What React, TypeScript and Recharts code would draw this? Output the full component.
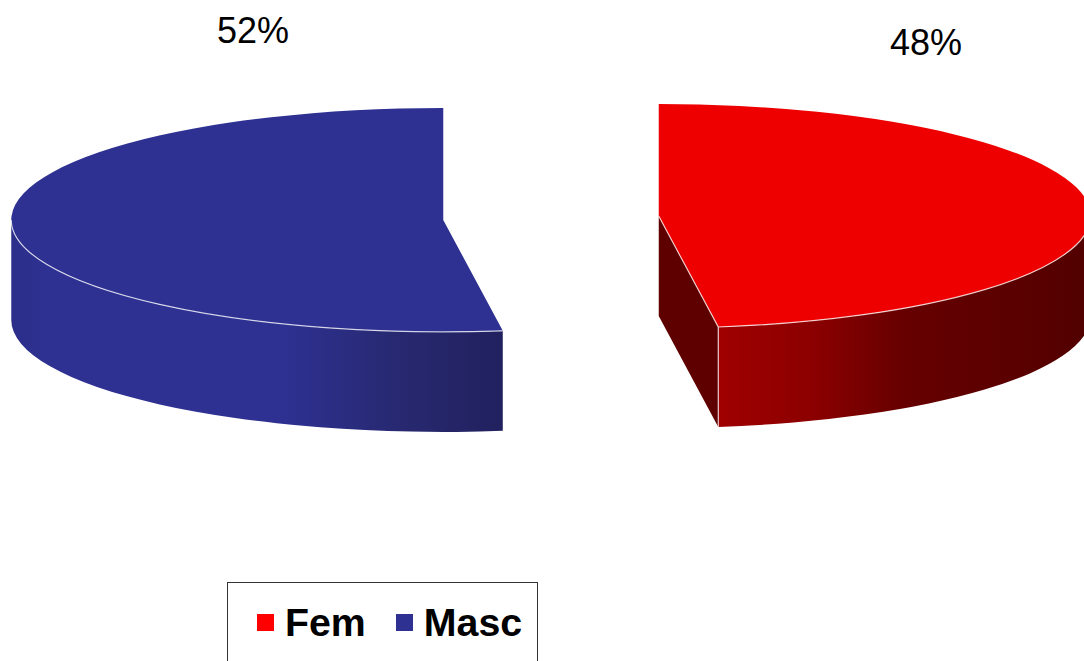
import React from "react";
import { PieChart, Pie, Legend } from "recharts";

const categories = ["Fem", "Masc"];
const shares = [47.8, 52.2];
const topColors = ["#ee0000", "#2e3192"];
const swatchColors = ["#ff0000", "#2e3192"];
const wallStops: [string, string][][] = [
  [["0%", "#a00000"], ["25%", "#8c0000"], ["50%", "#660000"], ["70%", "#5e0000"], ["100%", "#520000"]],
  [["0%", "#2c2e8a"], ["8%", "#2e3192"], ["55%", "#2e3192"], ["80%", "#27286f"], ["100%", "#21215f"]],
];
const faceColor = "#5f0000";

const W = 1084;
const H = 661;
const RX = 432;
const RATIO = 112 / 432;
const DEPTH = 100;
const EXPLODE = 108;
const LABEL_OFFSET: Record<string, [number, number]> = {
  Fem: [375, -176],
  Masc: [-298, -188],
};

const chartData = categories.map((name, i) => ({ name, value: shares[i], fill: topColors[i], idx: i }));

const rad = (d: number) => (d * Math.PI) / 180;

function SliceShape(props: any) {
  const { cx, cy, startAngle, endAngle, midAngle, outerRadius, name } = props;
  const i = categories.indexOf(name);
  const rx = outerRadius;
  const ry = outerRadius * RATIO;
  const mid = 90 - midAngle;
  const c = {
    x: cx + EXPLODE * Math.sin(rad(mid)),
    y: cy - EXPLODE * RATIO * Math.cos(rad(mid)),
  };
  const pt = (theta: number) => ({
    x: c.x + rx * Math.sin(rad(theta)),
    y: c.y - ry * Math.cos(rad(theta)),
  });
  const t0 = 90 - startAngle;
  const t1 = 90 - endAngle;
  const a = pt(t0);
  const b = pt(t1);
  const large = t1 - t0 > 180 ? 1 : 0;
  const top = `M${c.x},${c.y} L${a.x},${a.y} A${rx},${ry} 0 ${large} 1 ${b.x},${b.y} Z`;

  const v0 = Math.max(t0, 90);
  const v1 = Math.min(t1, 270);
  const p = pt(v0);
  const q = pt(v1);
  const rim = `M${p.x},${p.y} A${rx},${ry} 0 0 1 ${q.x},${q.y}`;
  const wall = `${rim} L${q.x},${q.y + DEPTH} A${rx},${ry} 0 0 0 ${p.x},${p.y + DEPTH} Z`;
  const gid = `wall-${i}`;
  const showFace = t1 > 90 && t1 < 180;

  return (
    <g>
      <defs>
        <linearGradient id={gid} x1="0" x2="1" y1="0" y2="0">
          {wallStops[i].map(([o, col]) => (
            <stop key={o} offset={o} stopColor={col} />
          ))}
        </linearGradient>
      </defs>
      {showFace && (
        <path
          d={`M${c.x},${c.y} L${b.x},${b.y} L${b.x},${b.y + DEPTH} L${c.x},${c.y + DEPTH} Z`}
          fill={faceColor}
        />
      )}
      <path d={wall} fill={`url(#${gid})`} />
      <path d={top} fill={props.fill} />
      <path d={rim} fill="none" stroke="#ffffff" strokeOpacity={0.75} strokeWidth={1.2} />
      {showFace && (
        <path
          d={`M${c.x},${c.y} L${b.x},${b.y} L${b.x},${b.y + DEPTH}`}
          fill="none"
          stroke="#ffffff"
          strokeOpacity={0.75}
          strokeWidth={1.2}
        />
      )}
    </g>
  );
}

function renderLabel(props: any) {
  const { cx, cy, name, percent } = props;
  const [dx, dy] = LABEL_OFFSET[name];
  return (
    <text
      x={cx + dx}
      y={cy + dy}
      textAnchor="middle"
      dominantBaseline="central"
      fontFamily="'Liberation Sans', Arial, sans-serif"
      fontSize={36}
      fill="#000000"
    >
      {`${Math.round(percent * 100)}%`}
    </text>
  );
}

function LegendBox(props: any) {
  const items = props.payload || [];
  return (
    <div
      style={{
        boxSizing: "border-box",
        width: 311,
        height: 79,
        background: "#ffffff",
        border: "1px solid #333333",
        borderBottom: "none",
        display: "flex",
        alignItems: "flex-start",
        paddingLeft: 29,
        paddingTop: 17,
        fontFamily: "'Liberation Sans', Arial, sans-serif",
        fontWeight: 700,
        fontSize: 39.3,
        lineHeight: "44px",
        color: "#000000",
      }}
    >
      {items.map((it: any) => (
        <span key={it.value} style={{ display: "flex", alignItems: "center", marginRight: 30 }}>
          <span
            style={{
              width: 17,
              height: 17,
              marginRight: 11,
              background: swatchColors[categories.indexOf(it.value)],
              display: "inline-block",
            }}
          />
          {it.value}
        </span>
      ))}
    </div>
  );
}

export default function App() {
  return (
    <div style={{ position: "absolute", left: 0, top: 0, width: W, height: H, overflow: "hidden", background: "#fff" }}>
      <PieChart width={W} height={H} margin={{ top: 0, right: 0, bottom: 0, left: 0 }}>
        <Pie
          data={chartData}
          dataKey="value"
          nameKey="name"
          cx={551}
          cy={218}
          innerRadius={0}
          outerRadius={RX}
          startAngle={90}
          endAngle={-270}
          stroke="none"
          isAnimationActive={false}
          label={renderLabel}
          labelLine={false}
          shape={SliceShape}
        />
        <Legend
          content={<LegendBox />}
          wrapperStyle={{ position: "absolute", left: 227, top: 582, width: 311, height: 79, bottom: "auto", right: "auto" }}
        />
      </PieChart>
    </div>
  );
}
